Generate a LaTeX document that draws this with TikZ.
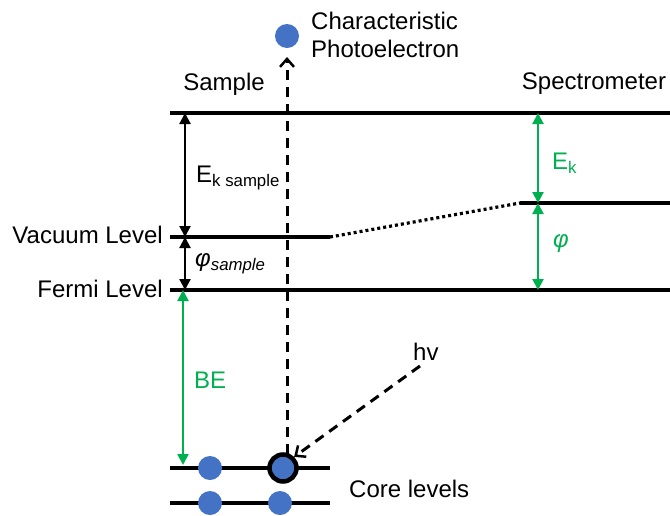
\documentclass[tikz,border=0pt]{standalone}
\usepackage{fontspec}
\setmainfont{Liberation Sans}
\usetikzlibrary{arrows.meta}
\definecolor{dotblue}{HTML}{4472C4}
\definecolor{grn}{HTML}{00B050}
\begin{document}
\begin{tikzpicture}[x=1pt,y=-1pt,
  level/.style={line width=3.4pt},
  dimarrow/.style={line width=2.2pt,{Triangle[length=11pt,width=11pt]}-{Triangle[length=11pt,width=11pt]}},
  gdimarrow/.style={line width=2.2pt,draw=grn,{Triangle[length=11pt,width=11pt,fill=grn]}-{Triangle[length=11pt,width=11pt,fill=grn]}},
  elec/.style={circle,fill=dotblue,inner sep=0pt,minimum size=24pt},
  lbl/.style={font=\fontsize{24}{28}\selectfont,inner sep=0pt},
  photon/.style={line width=3pt,dash pattern=on 10pt off 7pt},
  barb/.style={-{Straight Barb[length=8pt,width=14pt,line width=2.5pt]}}
]
\useasboundingbox (0,0) rectangle (670,515);
% levels
\draw[level] (170,113) coordinate (tl) -- (670,113) coordinate (tr);
\draw[level] (170,237) coordinate (vl) -- (330,237) coordinate (vr);
\draw[level] (520,203) coordinate (svl) -- (670,203) coordinate (svr);
\draw[level] (170,290) coordinate (fl) -- (670,290) coordinate (fr);
\draw[level] (170,468) coordinate (c1l) -- (330,468) coordinate (c1r);
\draw[level] (170,503) coordinate (c2l) -- (330,503) coordinate (c2r);
\draw[line width=3.2pt,dash pattern=on 3pt off 3pt] (vr) -- (svl);
% electrons
\node[elec] (e1) at (210,468) {};
\node[elec,draw=black,line width=4.5pt,minimum size=27pt] (e2) at (283,468) {};
\node[elec] (e3) at (210,503) {};
\node[elec] (e4) at (280,503) {};
\node[elec] (pe) at (287,36) {};
% photoelectron path
\coordinate (petip) at (287,57);
\coordinate (e2top) at (287,454);
\draw[photon,barb] (e2top) -- (petip);
% hv
\node[lbl,anchor=west] (hv) at (413,352) {hv};
\draw[photon,barb] (420,366) -- (e2.north east);
% sample dims
\coordinate (a1) at (185,113); \coordinate (a2) at (185,237); \coordinate (a3) at (185,290);
\draw[dimarrow] (a1) -- (a2);
\draw[dimarrow] (a2) -- (a3);
\draw[gdimarrow] (183,290) -- (183,465);
\node[lbl,anchor=west] (eks) at (196,178) {E\textsubscript{k sample}};
\node[lbl,anchor=west] (phs) at (195,264) {{\itshape φ}\textsubscript{\itshape sample}};
\node[lbl,anchor=west,text=grn] (be) at (194,380) {BE};
% spectrometer dims
\draw[gdimarrow] (538,113) -- (538,203);
\draw[gdimarrow] (538,203) -- (538,290);
\node[lbl,anchor=west,text=grn] (ek) at (552,163) {E\textsubscript{k}};
\node[lbl,anchor=west,text=grn] (ph) at (553,244) {\itshape φ};
% labels
\node[lbl] (sample) at (224,84) {Sample};
\node[lbl] (spec) at (594,84) {Spectrometer};
\node[lbl,anchor=west,align=left] (char) at (311,35) {Characteristic\\Photoelectron};
\node[lbl,anchor=east] (vac) at (163,235) {Vacuum Level};
\node[lbl,anchor=east] (fermi) at (163,289) {Fermi Level};
\node[lbl,anchor=west] (core) at (349,489) {Core levels};
\end{tikzpicture}
\end{document}
